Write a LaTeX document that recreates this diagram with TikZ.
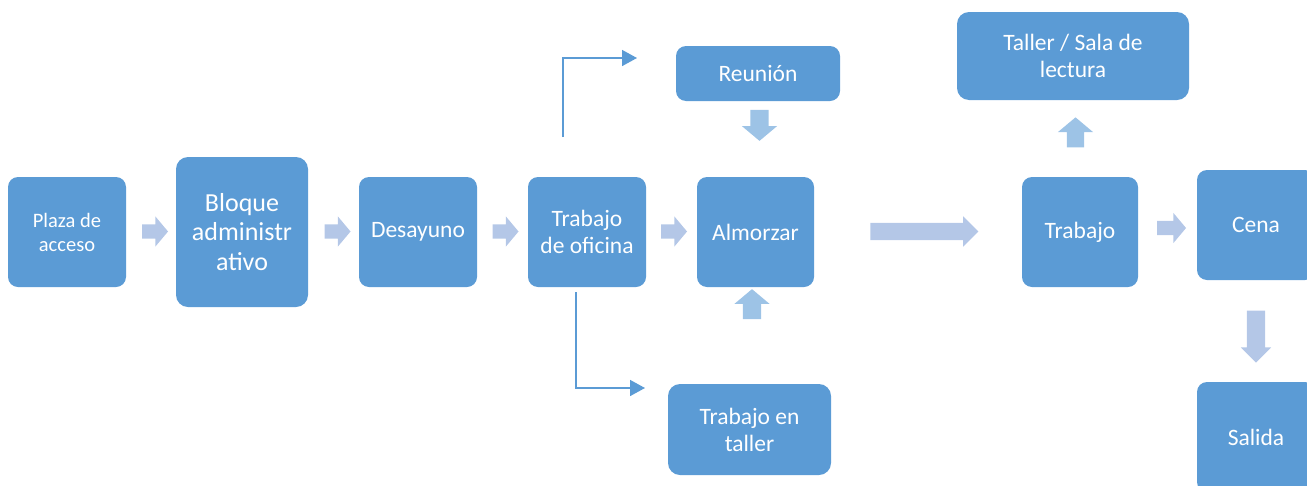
\documentclass[tikz,border=0pt]{standalone}
\usepackage{fontspec}
\setmainfont{Carlito}
\usepackage{tikz}
\usetikzlibrary{shapes.arrows,arrows.meta}

\definecolor{boxblue}{HTML}{5B9BD5}
\definecolor{paleblue}{HTML}{B4C7E7}
\definecolor{softblue}{HTML}{9DC3E6}

\tikzset{
  stepbox/.style={rectangle, rounded corners=10pt, fill=boxblue, text=white, align=center,
    inner sep=0pt, font=\fontsize{23.5}{27}\selectfont},
  blockarr/.style={single arrow, fill=paleblue, draw=none, inner xsep=0pt, inner ysep=7pt,
    single arrow head extend=8pt, single arrow tip angle=100, minimum width=0pt, outer sep=0pt},
  thinarr/.style={draw=boxblue, line width=1.6pt, -{Triangle[length=15pt,width=16pt]}}
}

\begin{document}
\begin{tikzpicture}[x=1pt,y=-1pt]
  \useasboundingbox (0,0) rectangle (1307,485); \clip (0,0) rectangle (1307,485);
  % boxes
  \node[stepbox, minimum width=118pt, minimum height=110pt, font=\fontsize{20.5}{24}\selectfont] (plaza) at (67,232) {Plaza de\\acceso};
  \node[stepbox, minimum width=132pt, minimum height=150pt, rounded corners=12pt, font=\fontsize{26}{29.5}\selectfont] (bloque) at (242,232) {Bloque\\administr\\ativo};
  \node[stepbox, minimum width=118pt, minimum height=110pt] (desayuno) at (418,232) {Desayuno};
  \node[stepbox, minimum width=118pt, minimum height=110pt] (oficina) at (587,232) {Trabajo\\de oficina};
  \node[stepbox, minimum width=117pt, minimum height=110pt] (almorzar) at (755.5,232) {Almorzar};
  \node[stepbox, minimum width=164pt, minimum height=55pt] (reunion) at (758,73.5) {Reunión};
  \node[stepbox, minimum width=163pt, minimum height=91pt, rounded corners=12pt] (taller) at (749.5,429.5) {Trabajo en\\taller};
  \node[stepbox, minimum width=232pt, minimum height=88pt, rounded corners=12pt] (lectura) at (1073,56) {Taller / Sala de\\lectura};
  \node[stepbox, minimum width=116pt, minimum height=110pt] (trabajo) at (1080,232) {Trabajo};
  \node[stepbox, minimum width=118pt, minimum height=110pt] (cena) at (1256,225) {Cena};
  \node[stepbox, minimum width=118pt, minimum height=110pt] (salida) at (1256,437) {Salida};
  % block arrows
  \node[blockarr, minimum height=26pt] (a1) at (152,231.5) {};
  \node[blockarr, minimum height=26pt] (a2) at (334.5,231.5) {};
  \node[blockarr, minimum height=26pt] (a3) at (502.5,231.5) {};
  \node[blockarr, minimum height=26pt] (a4) at (671,231.5) {};
  \node[blockarr, minimum height=108pt, inner ysep=8.5pt, single arrow head extend=6.5pt, single arrow tip angle=90] (a5) at (920,231.5) {};
  \node[blockarr, minimum height=29pt] (a6) at (1168.5,228) {};
  \node[blockarr, fill=softblue, rotate=-90, minimum height=31pt, inner ysep=9pt, single arrow head extend=8.5pt, single arrow tip angle=100] (a7) at (759.5,121.5) {};
  \node[blockarr, fill=softblue, rotate=90, minimum height=30pt, inner ysep=9pt, single arrow head extend=8.5pt, single arrow tip angle=100] (a8) at (752,308) {};
  \node[blockarr, fill=softblue, rotate=90, minimum height=30pt, inner ysep=8.5pt, single arrow head extend=9pt, single arrow tip angle=100] (a9) at (1075.5,136) {};
  \node[blockarr, rotate=-90, minimum height=52pt, inner ysep=9pt, single arrow head extend=6pt, single arrow tip angle=90] (a10) at (1256,332) {};
  % thin arrows out of the office
  \coordinate (upstart) at (563,137); \coordinate (upend) at (637,58);
  \coordinate (downstart) at (576,292); \coordinate (downend) at (645,388);
  \draw[thinarr] (upstart) |- (upend);
  \draw[thinarr] (downstart) |- (downend);
\end{tikzpicture}
\end{document}
